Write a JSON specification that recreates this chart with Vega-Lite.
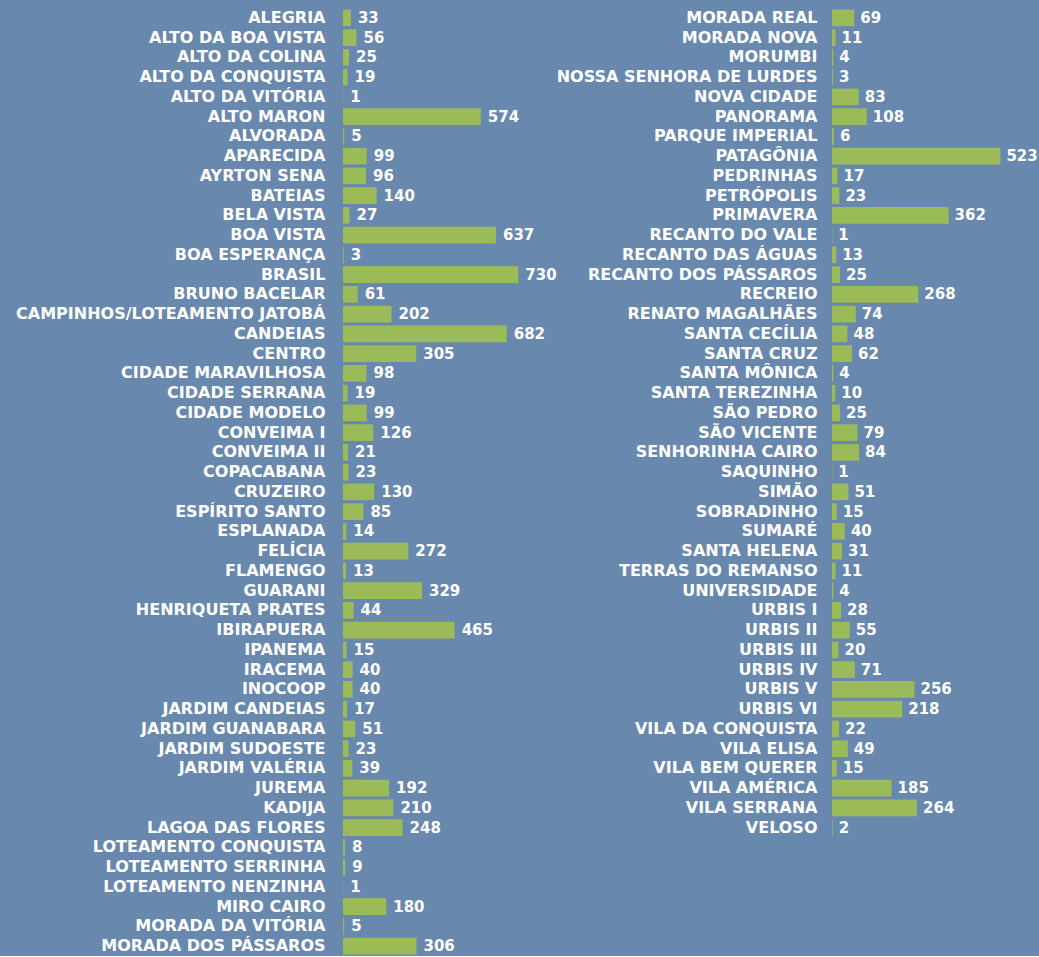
{
  "$schema": "https://vega.github.io/schema/vega-lite/v6.json",
  "background": "#6888ae",
  "padding": {"left": 15, "top": 8, "right": 2, "bottom": 0},
  "config": {
    "view": {"stroke": null},
    "concat": {"spacing": 289},
    "axis": {"domain": false, "ticks": false, "grid": false, "labelColor": "white", "labelFont": "DejaVu Sans", "labelFontSize": 16, "labelFontWeight": "bold", "labelLimit": 0, "title": null},
    "text": {"font": "DejaVu Sans", "fontSize": 15, "fontWeight": "bold", "color": "white"}
  },
  "bounds": "flush",
  "datasets": {
    "left": [
      {"bairro": "ALEGRIA", "n": 33},
      {"bairro": "ALTO DA BOA VISTA", "n": 56},
      {"bairro": "ALTO DA COLINA", "n": 25},
      {"bairro": "ALTO DA CONQUISTA", "n": 19},
      {"bairro": "ALTO DA VITÓRIA", "n": 1},
      {"bairro": "ALTO MARON", "n": 574},
      {"bairro": "ALVORADA", "n": 5},
      {"bairro": "APARECIDA", "n": 99},
      {"bairro": "AYRTON SENA", "n": 96},
      {"bairro": "BATEIAS", "n": 140},
      {"bairro": "BELA VISTA", "n": 27},
      {"bairro": "BOA VISTA", "n": 637},
      {"bairro": "BOA ESPERANÇA", "n": 3},
      {"bairro": "BRASIL", "n": 730},
      {"bairro": "BRUNO BACELAR", "n": 61},
      {"bairro": "CAMPINHOS/LOTEAMENTO JATOBÁ", "n": 202},
      {"bairro": "CANDEIAS", "n": 682},
      {"bairro": "CENTRO", "n": 305},
      {"bairro": "CIDADE MARAVILHOSA", "n": 98},
      {"bairro": "CIDADE SERRANA", "n": 19},
      {"bairro": "CIDADE MODELO", "n": 99},
      {"bairro": "CONVEIMA I", "n": 126},
      {"bairro": "CONVEIMA II", "n": 21},
      {"bairro": "COPACABANA", "n": 23},
      {"bairro": "CRUZEIRO", "n": 130},
      {"bairro": "ESPÍRITO SANTO", "n": 85},
      {"bairro": "ESPLANADA", "n": 14},
      {"bairro": "FELÍCIA", "n": 272},
      {"bairro": "FLAMENGO", "n": 13},
      {"bairro": "GUARANI", "n": 329},
      {"bairro": "HENRIQUETA PRATES", "n": 44},
      {"bairro": "IBIRAPUERA", "n": 465},
      {"bairro": "IPANEMA", "n": 15},
      {"bairro": "IRACEMA", "n": 40},
      {"bairro": "INOCOOP", "n": 40},
      {"bairro": "JARDIM CANDEIAS", "n": 17},
      {"bairro": "JARDIM GUANABARA", "n": 51},
      {"bairro": "JARDIM SUDOESTE", "n": 23},
      {"bairro": "JARDIM VALÉRIA", "n": 39},
      {"bairro": "JUREMA", "n": 192},
      {"bairro": "KADIJA", "n": 210},
      {"bairro": "LAGOA DAS FLORES", "n": 248},
      {"bairro": "LOTEAMENTO CONQUISTA", "n": 8},
      {"bairro": "LOTEAMENTO SERRINHA", "n": 9},
      {"bairro": "LOTEAMENTO NENZINHA", "n": 1},
      {"bairro": "MIRO CAIRO", "n": 180},
      {"bairro": "MORADA DA VITÓRIA", "n": 5},
      {"bairro": "MORADA DOS PÁSSAROS", "n": 306}
    ],
    "right": [
      {"bairro": "MORADA REAL", "n": 69},
      {"bairro": "MORADA NOVA", "n": 11},
      {"bairro": "MORUMBI", "n": 4},
      {"bairro": "NOSSA SENHORA DE LURDES", "n": 3},
      {"bairro": "NOVA CIDADE", "n": 83},
      {"bairro": "PANORAMA", "n": 108},
      {"bairro": "PARQUE IMPERIAL", "n": 6},
      {"bairro": "PATAGÔNIA", "n": 523},
      {"bairro": "PEDRINHAS", "n": 17},
      {"bairro": "PETRÓPOLIS", "n": 23},
      {"bairro": "PRIMAVERA", "n": 362},
      {"bairro": "RECANTO DO VALE", "n": 1},
      {"bairro": "RECANTO DAS ÁGUAS", "n": 13},
      {"bairro": "RECANTO DOS PÁSSAROS", "n": 25},
      {"bairro": "RECREIO", "n": 268},
      {"bairro": "RENATO MAGALHÃES", "n": 74},
      {"bairro": "SANTA CECÍLIA", "n": 48},
      {"bairro": "SANTA CRUZ", "n": 62},
      {"bairro": "SANTA MÔNICA", "n": 4},
      {"bairro": "SANTA TEREZINHA", "n": 10},
      {"bairro": "SÃO PEDRO", "n": 25},
      {"bairro": "SÃO VICENTE", "n": 79},
      {"bairro": "SENHORINHA CAIRO", "n": 84},
      {"bairro": "SAQUINHO", "n": 1},
      {"bairro": "SIMÃO", "n": 51},
      {"bairro": "SOBRADINHO", "n": 15},
      {"bairro": "SUMARÉ", "n": 40},
      {"bairro": "SANTA HELENA", "n": 31},
      {"bairro": "TERRAS DO REMANSO", "n": 11},
      {"bairro": "UNIVERSIDADE", "n": 4},
      {"bairro": "URBIS I", "n": 28},
      {"bairro": "URBIS II", "n": 55},
      {"bairro": "URBIS III", "n": 20},
      {"bairro": "URBIS IV", "n": 71},
      {"bairro": "URBIS V", "n": 256},
      {"bairro": "URBIS VI", "n": 218},
      {"bairro": "VILA DA CONQUISTA", "n": 22},
      {"bairro": "VILA ELISA", "n": 49},
      {"bairro": "VILA BEM QUERER", "n": 15},
      {"bairro": "VILA AMÉRICA", "n": 185},
      {"bairro": "VILA SERRANA", "n": 264},
      {"bairro": "VELOSO", "n": 2}
    ]
  },
  "hconcat": [
    {
      "data": {"name": "left"},
      "width": 200,
      "height": 948,
      "encoding": {
        "y": {"field": "bairro", "type": "nominal", "sort": null, "scale": {"paddingInner": 0.16, "paddingOuter": 0.08}, "axis": {"labelPadding": 18}},
        "x": {"field": "n", "type": "quantitative", "scale": {"domain": [0, 833], "nice": false}, "axis": null}
      },
      "layer": [
        {"mark": {"type": "bar", "color": "#9bbb59"}},
        {"mark": {"type": "text", "align": "left", "baseline": "middle", "dx": 7}, "encoding": {"text": {"field": "n", "type": "quantitative"}}}
      ]
    },
    {
      "data": {"name": "right"},
      "width": 190,
      "height": 829.5,
      "encoding": {
        "y": {"field": "bairro", "type": "nominal", "sort": null, "scale": {"paddingInner": 0.16, "paddingOuter": 0.08}, "axis": {"labelPadding": 15}},
        "x": {"field": "n", "type": "quantitative", "scale": {"domain": [0, 590], "nice": false}, "axis": null}
      },
      "layer": [
        {"mark": {"type": "bar", "color": "#9bbb59"}},
        {"mark": {"type": "text", "align": "left", "baseline": "middle", "dx": 6}, "encoding": {"text": {"field": "n", "type": "quantitative"}}}
      ]
    }
  ]
}
